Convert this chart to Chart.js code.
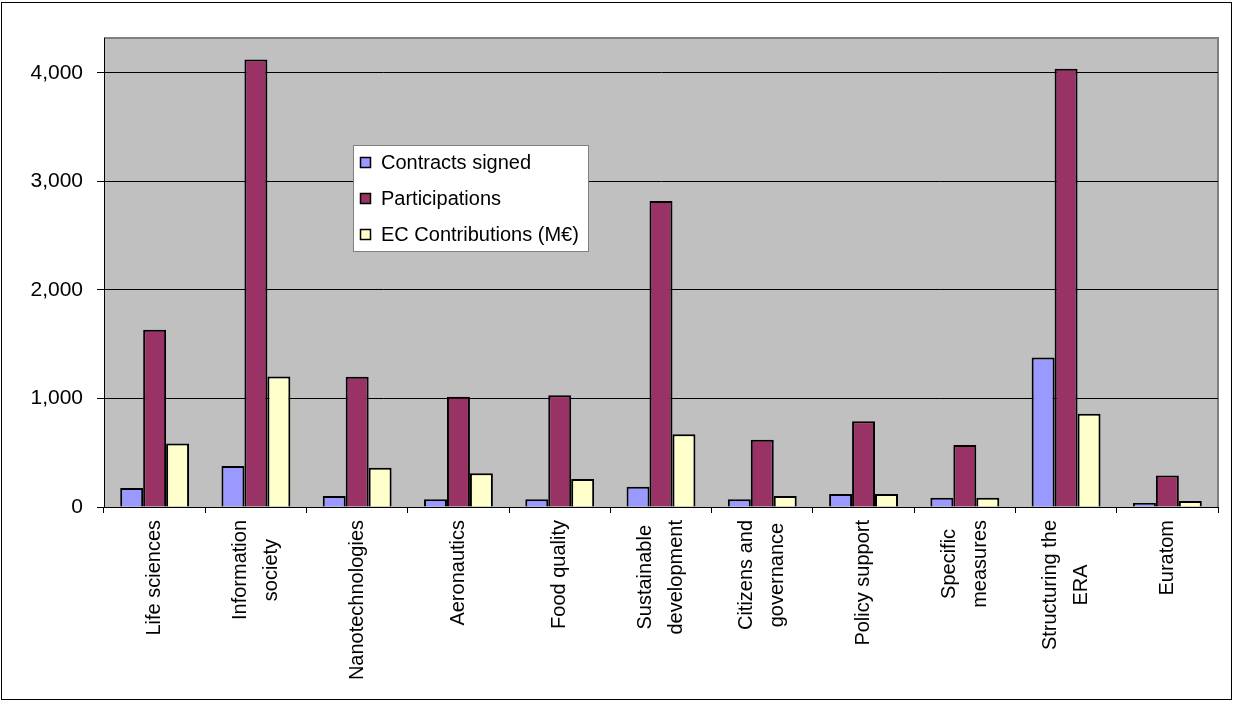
<!DOCTYPE html>
<html>
<head>
<meta charset="utf-8">
<script src="https://cdn.jsdelivr.net/npm/chart.js@4/dist/chart.umd.min.js"></script>
<style>
html,body{margin:0;padding:0;background:#fff;}
#wrap{width:1234px;height:704px;position:relative;}
</style>
</head>
<body>
<div id="wrap"><canvas id="c" width="1234" height="704"></canvas></div>
<script>
const categories = [
  ['Life sciences'],
  ['Information', 'society'],
  ['Nanotechnologies'],
  ['Aeronautics'],
  ['Food quality'],
  ['Sustainable', 'development'],
  ['Citizens and', 'governance'],
  ['Policy support'],
  ['Specific', 'measures'],
  ['Structuring the', 'ERA'],
  ['Euratom']
];
const seriesNames = ['Contracts signed', 'Participations', 'EC Contributions (M\u20AC)'];
const contractsSigned = [175, 377, 101, 71, 71, 187, 71, 120, 86, 1378, 37];
const participations = [1633, 4122, 1200, 1015, 1030, 2818, 620, 791, 570, 4037, 291];
const ecContributions = [586, 1203, 362, 310, 258, 671, 101, 120, 86, 859, 55];
const yTicks = [0, 1000, 2000, 3000, 4000];

const FONT = '"Liberation Sans", Arial, sans-serif';

const bgPlugin = {
  id: 'bg',
  beforeDraw(chart) {
    const ctx = chart.ctx, a = chart.chartArea;
    ctx.save();
    ctx.fillStyle = '#fff';
    ctx.fillRect(0, 0, chart.width, chart.height);
    ctx.strokeStyle = '#000';
    ctx.lineWidth = 1;
    ctx.strokeRect(1.5, 2.5, 1230, 697);
    ctx.fillStyle = '#C0C0C0';
    ctx.fillRect(a.left, a.top, a.right - a.left, a.bottom - a.top);
    ctx.strokeStyle = '#808080';
    ctx.lineWidth = 2;
    ctx.beginPath();
    ctx.moveTo(a.left, a.top);
    ctx.lineTo(a.right, a.top);
    ctx.lineTo(a.right, a.bottom);
    ctx.stroke();
    ctx.restore();
  }
};

const labelPlugin = {
  id: 'xlabels',
  afterDraw(chart) {
    const ctx = chart.ctx, xs = chart.scales.x;
    const top = xs.top + 13;
    const lineGap = 31;
    ctx.save();
    ctx.font = '20px ' + FONT;
    ctx.fillStyle = '#000';
    chart.data.labels.forEach((lines, i) => {
      const cx = xs.getPixelForValue(i);
      const widths = lines.map(l => ctx.measureText(l).width);
      const maxW = Math.max(...widths);
      const n = lines.length;
      lines.forEach((l, j) => {
        const x = cx + (j - (n - 1) / 2) * lineGap;
        const y = top + maxW / 2;
        ctx.save();
        ctx.translate(x, y);
        ctx.rotate(-Math.PI / 2);
        ctx.textAlign = 'center';
        ctx.textBaseline = 'middle';
        ctx.fillText(l, 0, 0);
        ctx.restore();
      });
    });
    ctx.restore();
  }
};

const legendPlugin = {
  id: 'boxlegend',
  afterDraw(chart) {
    const ctx = chart.ctx;
    const bx = 353.5, by = 145.5, bw = 235, bh = 106;
    ctx.save();
    ctx.fillStyle = '#fff';
    ctx.fillRect(bx, by, bw, bh);
    ctx.strokeStyle = '#808080';
    ctx.lineWidth = 1;
    ctx.strokeRect(bx, by, bw, bh);
    ctx.font = '20px ' + FONT;
    ctx.textBaseline = 'middle';
    ctx.textAlign = 'left';
    chart.data.datasets.forEach((ds, i) => {
      const cy = 163 + i * 36;
      ctx.fillStyle = ds.backgroundColor;
      ctx.fillRect(361, cy - 5, 9, 9);
      ctx.strokeStyle = '#000';
      ctx.lineWidth = 1.5;
      ctx.strokeRect(360.5, cy - 5.5, 10, 10);
      ctx.fillStyle = '#000';
      ctx.fillText(ds.label, 381, cy);
    });
    ctx.restore();
  }
};

const mk = (label, data, color) => ({
  label, data,
  backgroundColor: color,
  borderColor: '#000',
  borderWidth: 2,
  borderSkipped: 'bottom',
  categoryPercentage: 0.68,
  barPercentage: 1.0
});

new Chart(document.getElementById('c'), {
  type: 'bar',
  data: {
    labels: categories,
    datasets: [
      mk(seriesNames[0], contractsSigned, '#9999FF'),
      mk(seriesNames[1], participations, '#993366'),
      mk(seriesNames[2], ecContributions, '#FFFFCC')
    ]
  },
  options: {
    responsive: false,
    animation: false,
    events: [],
    layout: { padding: { top: 38, right: 16, left: 0, bottom: 0 } },
    plugins: {
      legend: { display: false },
      tooltip: { enabled: false }
    },
    scales: {
      x: {
        offset: true,
        grid: {
          offset: true,
          drawOnChartArea: false,
          drawTicks: true,
          tickLength: 6,
          color: '#000',
          lineWidth: 1
        },
        border: { display: true, color: '#000', width: 1 },
        ticks: { display: false },
        afterFit(s) { s.height = 197; }
      },
      y: {
        min: 0,
        max: 4320,
        afterBuildTicks(s) { s.ticks = yTicks.map(v => ({ value: v })); },
        grid: {
          color: '#000',
          lineWidth: 1,
          tickLength: 7,
          drawTicks: true
        },
        border: { display: true, color: '#000', width: 1 },
        ticks: {
          padding: 14,
          color: '#000',
          font: { family: FONT, size: 21 },
          callback: v => v.toLocaleString('en-US')
        },
        afterFit(s) { s.width = 104; }
      }
    }
  },
  plugins: [bgPlugin, labelPlugin, legendPlugin]
});
</script>
</body>
</html>
